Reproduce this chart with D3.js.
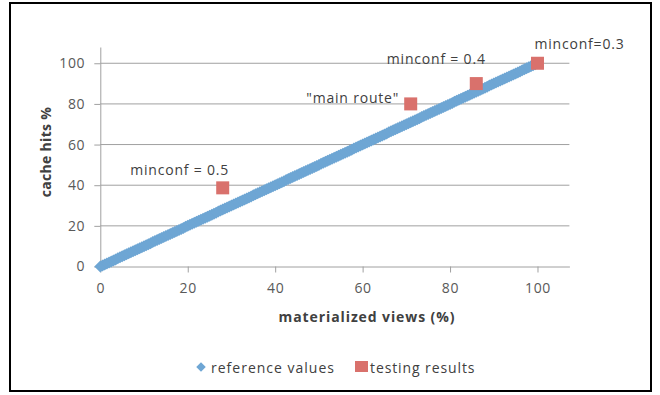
<!DOCTYPE html>
<html><head><meta charset="utf-8">
<script src="https://cdn.jsdelivr.net/npm/d3@7"></script>
<style>body{margin:0;background:#fff}svg{display:block}</style>
</head><body>
<script>
const xTicks = [0, 20, 40, 60, 80, 100];
const yTicks = [0, 20, 40, 60, 80, 100];
const referenceX = d3.range(0, 100.01, 0.5);
const referenceY = d3.range(0, 100.01, 0.5);
const testX = [28, 71, 86, 100];
const testY = [38.7, 80, 90, 100];
const testLabels = ["minconf = 0.5", "\"main route\"", "minconf = 0.4", "minconf=0.3"];
const legendLabels = ["reference values", "testing results"];

const W = 660, H = 395;
const font = "'Open Sans', 'Liberation Sans', sans-serif";
const svg = d3.select("body").append("svg").attr("width", W).attr("height", H);
svg.append("rect").attr("x", 10).attr("y", 3).attr("width", 641).attr("height", 388)
  .attr("fill", "#fff").attr("stroke", "#000").attr("stroke-width", 2);

const x = d3.scaleLinear().domain([0, 107.3]).range([100.3, 569.4]);
const y = d3.scaleLinear().domain([0, 108]).range([266.5, 47]);

// gridlines
svg.append("g").selectAll("line").data(yTicks.filter(d => d > 0)).join("line")
  .attr("x1", x(0)).attr("x2", x(107.3)).attr("y1", d => y(d)).attr("y2", d => y(d))
  .attr("stroke", "#a0a0a0").attr("stroke-width", 1);

const xAxis = svg.append("g").attr("transform", `translate(0,${y(0)})`)
  .call(d3.axisBottom(x).tickValues(xTicks).tickSize(6).tickSizeOuter(0).tickPadding(11));
const yAxis = svg.append("g").attr("transform", `translate(${x(0)},0)`)
  .call(d3.axisLeft(y).tickValues(yTicks).tickSize(6).tickSizeOuter(0).tickPadding(9));
[xAxis, yAxis].forEach(g => {
  g.select(".domain").attr("stroke", "#a0a0a0");
  g.selectAll(".tick line").attr("stroke", "#a0a0a0");
  g.selectAll("text").attr("fill", "#595959").style("font-family", font)
    .style("font-size", "14px").style("letter-spacing", "0.7px");
});

// reference series (rotated squares = diamonds)
const diamond = d3.symbol().type(d3.symbolSquare).size(72);
svg.append("g").selectAll("path").data(referenceX.map((v, i) => [v, referenceY[i]])).join("path")
  .attr("d", diamond).attr("transform", d => `translate(${x(d[0])},${y(d[1])}) rotate(45)`)
  .attr("fill", "#6ea6d4");

// test series
const sq = 13;
svg.append("g").selectAll("rect").data(testX.map((v, i) => [v, testY[i]])).join("rect")
  .attr("x", d => x(d[0]) - sq / 2).attr("y", d => y(d[1]) - sq / 2)
  .attr("width", sq).attr("height", sq).attr("fill", "#d9716c");

// labels (offsets relative to each point)
const labelOffsets = [[-43, -13], [-58, -1], [-40, -20], [42, -14]];
svg.append("g").selectAll("text").data(testLabels).join("text")
  .attr("x", (d, i) => x(testX[i]) + labelOffsets[i][0])
  .attr("y", (d, i) => y(testY[i]) + labelOffsets[i][1])
  .attr("text-anchor", "middle").attr("fill", "#404040")
  .style("font-family", font).style("font-size", "14px").style("letter-spacing", "0.8px").text(d => d);

// axis titles
svg.append("text").attr("x", 367).attr("y", 322).attr("text-anchor", "middle")
  .attr("fill", "#404040").style("font-family", font).style("font-size", "14px").style("font-weight", "bold")
  .style("letter-spacing", "0.9px").text("materialized views (%)");
svg.append("text").attr("transform", "translate(51,152) rotate(-90)").attr("text-anchor", "middle")
  .attr("fill", "#404040").style("font-family", font).style("font-size", "14px").style("font-weight", "bold")
  .style("letter-spacing", "0.3px").text("cache hits %");

// legend
const lg = svg.append("g");
lg.append("path").attr("d", d3.symbol().type(d3.symbolSquare).size(45))
  .attr("transform", "translate(201,367) rotate(45)").attr("fill", "#6ea6d4");
lg.append("text").attr("x", 211).attr("y", 372.5).attr("fill", "#404040").style("font-family", font)
  .style("font-size", "14px").style("letter-spacing", "1px").text(legendLabels[0]);
lg.append("rect").attr("x", 355).attr("y", 361).attr("width", 13).attr("height", 11).attr("fill", "#d9716c");
lg.append("text").attr("x", 370).attr("y", 372.5).attr("fill", "#404040").style("font-family", font)
  .style("font-size", "14px").style("letter-spacing", "0.9px").text(legendLabels[1]);
</script>
</body></html>
